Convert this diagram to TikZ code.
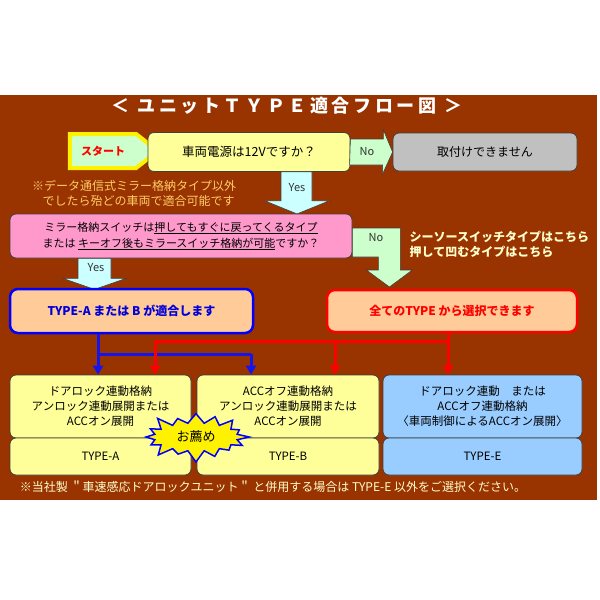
\documentclass[tikz,border=0pt]{standalone}
\usepackage{fontspec}
\setmainfont{Noto Sans CJK JP}
\usetikzlibrary{arrows.meta,shapes.symbols}

\definecolor{bgbrown}{RGB}{153,51,0}
\definecolor{boxyellow}{RGB}{255,255,153}
\definecolor{boxgray}{RGB}{192,192,192}
\definecolor{boxpink}{RGB}{255,153,204}
\definecolor{boxpeach}{RGB}{255,204,153}
\definecolor{boxblue}{RGB}{153,204,255}
\definecolor{arrgreen}{RGB}{204,255,204}
\definecolor{arrcyan}{RGB}{204,255,255}
\definecolor{noteorange}{RGB}{255,204,102}
\definecolor{notecream}{RGB}{255,255,204}
\definecolor{lineblue}{RGB}{20,20,235}
\newcommand{\jfs}[2]{\fontsize{#1}{#2}\selectfont}

\begin{document}
\begin{tikzpicture}[x=1pt,y=-1pt,line width=0.8pt,>={Triangle[length=9pt,width=10pt]},
  box/.style={draw=black!75,rounded corners=6pt,inner sep=0pt,align=center,font=\jfs{11.5}{15}},
  fatarrow/.style={draw=black!75,line width=0.6pt},
  lbl/.style={font=\jfs{11}{13},text=black!80},
  bline/.style={lineblue,line width=3pt},
  rline/.style={red,line width=3pt}]
  \useasboundingbox (0,0) rectangle (600,600);
  \fill[bgbrown] (0,95) rectangle (597,500);
  \node[text=white,font=\jfs{18}{20}\bfseries\addfontfeature{LetterSpace=20}] (title) at (287,106) {＜ ユニットＴＹＰＥ適合フロー図 ＞};
  % 上段
  \node[signal,signal to=east,signal pointer angle=76,draw=yellow,line width=4pt,fill=arrgreen,
    minimum width=88pt,minimum height=34pt,inner sep=0pt,text=red,font=\jfs{11}{13}\bfseries] (start) at (103,151) {スタート};
  \node[box,fill=boxyellow,minimum width=202pt,minimum height=39pt,font=\jfs{12.5}{15}] (q1) at (249,152) {車両電源は12Vですか？};
  \node[box,fill=boxgray,minimum width=184pt,minimum height=38pt,font=\jfs{12}{15}] (ng) at (485,152) {取付けできません};
  \filldraw[fatarrow,fill=arrgreen] (q1.east) ++(0,-13) -- ++(33,0) -- ++(0,-9) -- (ng.west) -- ++(-10,22) -- ++(0,-9) -- ++(-33,0) -- cycle;
  \node[lbl] (no1) at (367,152) {No};
  \node[box,fill=boxpink,minimum width=342pt,minimum height=44pt,font=\jfs{11}{16}] (q2) at (181,236)
    {ミラー格納スイッチは\underline{押してもすぐに戻ってくるタイプ}\\または \underline{キーオフ後もミラースイッチ格納が可能}ですか？};
  \filldraw[fatarrow,fill=arrcyan] ([xshift=32pt]q1.south) -- ++(31,0) -- ++(0,29) -- ++(17,0) -- ++(-32,13) -- ++(-32,-13) -- ++(16,0) -- cycle;
  \node[lbl] (yes1) at (297,188) {Yes};
  \node[align=center,text=noteorange,font=\jfs{12}{15}] (note1) at (134,193) {※データ通信式ミラー格納タイプ以外\\\hspace{9pt}でしたら殆どの車両で適合可能です};
  % 中段
  \filldraw[fatarrow,fill=arrgreen] (q2.east) ++(0,-8) -- ++(48,0) -- ++(0,42) -- ++(12,0) -- ++(-23,17) -- ++(-23,-17) -- ++(12,0) -- ++(0,-13) -- ++(-26,0) -- cycle;
  \node[lbl] (no2) at (376,238) {No};
  \node[anchor=west,align=left,text=notecream,font=\jfs{12}{15}\bfseries] (note2) at (406,244) {シーソースイッチタイプはこちら\\押して凹むタイプはこちら};
  \filldraw[fatarrow,fill=arrcyan] ([xshift=-103pt]q2.south) -- ++(33,0) -- ++(0,20) -- ++(15,0) -- ++(-31.5,11) -- ++(-31.5,-11) -- ++(15,0) -- cycle;
  \node[lbl] (yes2) at (96,268) {Yes};
  \node[box,fill=boxpeach,draw=blue,line width=2.5pt,rounded corners=8pt,minimum width=243pt,minimum height=44pt,
    text=blue!85!black,font=\jfs{12}{14}\bfseries] (typeab) at (131.5,311) {TYPE-A または B が適合します};
  \node[box,fill=boxpeach,draw=red,line width=2.5pt,rounded corners=8pt,minimum width=250pt,minimum height=42pt,
    text=red,font=\jfs{12}{14}\bfseries] (alltype) at (452,311) {全てのTYPE から選択できます};
  % 下段
  \node[box,fill=boxyellow,minimum width=181pt,minimum height=63pt] (ua) at (100.5,406.5) {ドアロック連動格納\\アンロック連動展開または\\ACCオン展開};
  \node[box,fill=boxyellow,minimum width=182pt,minimum height=63pt] (ub) at (288,406.5) {ACCオフ連動格納\\アンロック連動展開または\\ACCオン展開};
  \node[box,fill=boxblue,minimum width=199pt,minimum height=63pt] (ue) at (482.5,406.5) {ドアロック連動　または\\ACCオフ連動格納\\〈車両制御によるACCオン展開〉};
  \foreach \n/\x/\w/\c/\l in {a/100.5/181/boxyellow/TYPE-A,b/288/182/boxyellow/TYPE-B,e/482.5/199/boxblue/TYPE-E}
    \node[box,fill=\c,minimum width=\w pt,minimum height=37pt] (l\n) at (\x,456.5) {\l};
  \node[starburst,fill=yellow,draw=blue,line width=1.5pt,minimum width=110pt,minimum height=54pt,starburst points=16,
    starburst point height=13pt,inner sep=0pt,font=\jfs{13}{15}] (rec) at (196,437) {お薦め};
  % 接続線
  \coordinate (b1) at (98,354); \coordinate (b2) at (251,354);
  \draw[bline] (typeab.south -| b1) -- (b1) -- (b2);
  \foreach \p/\b in {b1/ua,b2/ub} \draw[bline,->] (\p) -- (\p |- \b.north);
  \coordinate (r1) at (155,341); \coordinate (r2) at (335,341); \coordinate (r3) at (448,341);
  \draw[rline] (alltype.south -| r3) -- (r3) -- (r1);
  \foreach \p/\b in {r1/ua,r2/ub,r3/ue} \draw[rline,->] (\p) -- (\p |- \b.north);
  \node[text=notecream,font=\jfs{12}{14}] (foot) at (273,487) {※当社製 ＂車速感応ドアロックユニット＂ と併用する場合は TYPE-E 以外をご選択ください。};
\end{tikzpicture}
\end{document}
